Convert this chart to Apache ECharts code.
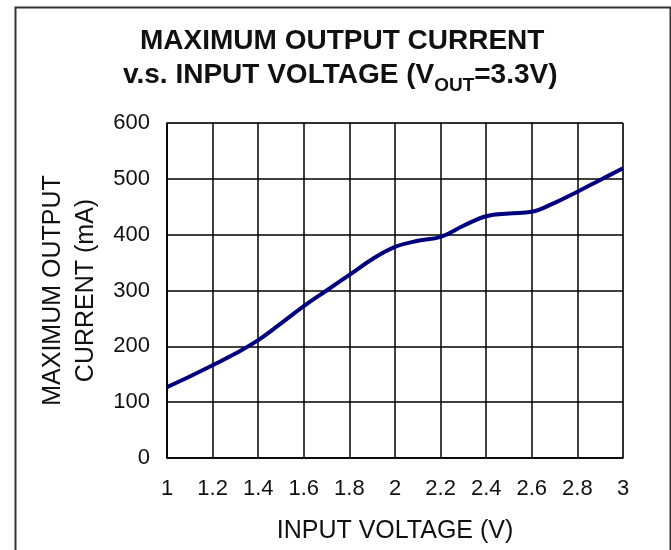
<!DOCTYPE html>
<html>
<head>
<meta charset="utf-8">
<script src="https://cdn.jsdelivr.net/npm/echarts@6/dist/echarts.min.js"></script>
<style>
html,body{margin:0;padding:0;background:#fff;}
#chart{width:671px;height:550px;}
</style>
</head>
<body>
<div id="chart"></div>
<script>
const titleLine1 = 'MAXIMUM OUTPUT CURRENT';
const titleLine2a = 'v.s. INPUT VOLTAGE (V';
const titleSub = 'OUT';
const titleLine2b = '=3.3V)';
const xName = 'INPUT VOLTAGE (V)';
const yName = 'MAXIMUM OUTPUT\nCURRENT (mA)';
const xTicks = ['1','1.2','1.4','1.6','1.8','2','2.2','2.4','2.6','2.8','3'];
const yTicks = ['0','100','200','300','400','500','600'];
const inputVoltage = [1.0,1.1,1.2,1.3,1.4,1.5,1.6,1.7,1.8,1.9,2.0,2.1,2.2,2.3,2.4,2.5,2.6,2.7,2.8,2.9,3.0];
const maxCurrent   = [127,146,166,187,211,241,272,300,328,356,378,389,396,416,433,438,441,457,477,498,519];

const FF = "'Liberation Sans', Arial, sans-serif";
const chart = echarts.init(document.getElementById('chart'), null, {renderer:'canvas'});
chart.setOption({
  animation:false,
  backgroundColor:'#fff',
  graphic:[{type:'rect', left:13, top:5, shape:{width:655, height:600}, style:{fill:'none', stroke:'#333', lineWidth:2}, silent:true}],
  title:[
    {text:titleLine1, left:140, top:26, padding:0, itemGap:0,
     textStyle:{fontFamily:FF, fontWeight:'bold', fontSize:28, lineHeight:30, color:'#111'}},
    {text:'{a|'+titleLine2a+'}{s|'+titleSub+'}{a|'+titleLine2b+'}', left:123, top:55, padding:0,
     textStyle:{rich:{
       a:{fontFamily:FF, fontWeight:'bold', fontSize:28, lineHeight:40, color:'#111'},
       s:{fontFamily:FF, fontWeight:'bold', fontSize:19, lineHeight:20, padding:[22,0,0,0], color:'#111'}
     }}}
  ],
  grid:{left:167, right:48, top:123, bottom:92, show:true, borderColor:'#777', borderWidth:1, backgroundColor:'transparent'},
  xAxis:{type:'value', min:1, max:3, interval:0.2,
    name:xName, nameLocation:'middle', nameGap:60,
    nameTextStyle:{fontFamily:FF, fontSize:25, lineHeight:26, color:'#111'},
    axisLine:{show:true, lineStyle:{color:'#000', width:1.6}},
    axisTick:{show:false},
    axisLabel:{margin:20, fontFamily:FF, fontSize:22, lineHeight:22, color:'#111',
      formatter:(v,i)=>xTicks[i]},
    splitLine:{show:true, lineStyle:{color:'#000', width:1.5}}
  },
  yAxis:{type:'value', min:0, max:600, interval:100,
    name:yName, nameLocation:'middle', nameGap:64, nameRotate:90,
    nameTextStyle:{fontFamily:FF, fontSize:25, lineHeight:33, color:'#111', align:'center'},
    axisLine:{show:true, lineStyle:{color:'#000', width:1.6}},
    axisTick:{show:false},
    axisLabel:{margin:17, fontFamily:FF, fontSize:22, color:'#111',
      formatter:(v,i)=>yTicks[i]},
    splitLine:{show:true, lineStyle:{color:'#000', width:1.5}}
  },
  series:[{type:'line', data:inputVoltage.map((x,i)=>[x, maxCurrent[i]]),
    smooth:0.4, showSymbol:false, clip:false,
    lineStyle:{color:'#00007f', width:4}}]
});
</script>
</body>
</html>
